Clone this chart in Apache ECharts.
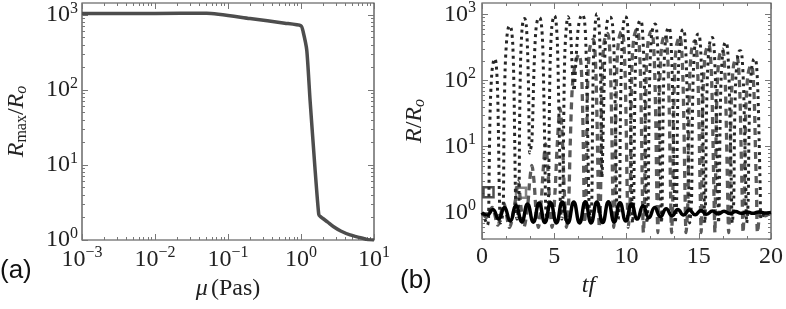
<!DOCTYPE html>
<html>
<head>
<meta charset="utf-8">
<script src="https://cdn.jsdelivr.net/npm/echarts@6/dist/echarts.min.js"></script>
<style>
  html, body { margin: 0; padding: 0; background: #fff; }
  #chart { width: 786px; height: 309px; }
</style>
</head>
<body>
<div id="chart"></div>
<script>
// (a) R_max/R_o versus viscosity
const muVals = [0.001, 0.01, 0.051, 0.2, 0.6, 1.0, 1.07, 1.2, 1.33, 1.55, 1.75, 1.85, 2.3, 2.8, 3.5, 4.7, 6.3, 7.9, 10];
const rMaxVals = [1050, 1050, 1060, 900, 780, 720, 600, 340, 74, 9.4, 2.2, 2.05, 1.75, 1.5, 1.32, 1.17, 1.08, 1.02, 1.0];

// (b) R/R_o versus tf
const solidSeries = [
  [0, 1.0], [0.35, 0.92], [0.75, 1.12], [1.15, 0.8], [1.55, 1.2], [1.95, 0.75], [2.35, 1.28], [2.75, 0.73],
  [3.15, 1.35], [3.55, 0.72], [3.95, 1.4], [4.35, 0.71], [4.75, 1.42], [5.15, 0.7], [5.55, 1.45], [5.95, 0.7],
  [6.35, 1.45], [6.75, 0.7], [7.15, 1.47], [7.55, 0.7], [7.95, 1.45], [8.35, 0.71], [8.75, 1.47], [9.15, 0.72],
  [9.55, 1.42], [9.95, 0.75], [10.35, 1.35], [10.75, 0.8], [11.15, 1.28], [11.55, 0.84], [11.95, 1.2], [12.35, 0.87],
  [12.75, 1.15], [13.15, 0.9], [13.55, 1.12], [13.95, 0.92], [14.35, 1.1], [14.75, 0.93], [15.15, 1.08], [15.55, 0.95],
  [15.95, 1.06], [16.35, 0.96], [16.75, 1.05], [17.15, 0.97], [17.55, 1.04], [17.95, 0.98], [18.35, 1.03], [18.75, 0.98],
  [19.15, 1.03], [19.55, 0.99], [20, 1.01]
];

const dottedSeries = [
  [0, 1.0], [0.2, 0.8], [0.38, 0.65],
  [0.45, 0.8], [0.5, 5], [0.57, 40], [0.68, 130], [0.8, 200], [0.89, 215], [0.98, 180], [1.07, 80], [1.14, 15], [1.2, 2], [1.28, 0.7], [1.38, 0.8],
  [1.47, 1.2], [1.52, 15], [1.6, 150], [1.72, 450], [1.82, 630], [1.92, 680], [2.03, 600], [2.13, 350], [2.21, 80], [2.27, 10], [2.33, 1.5], [2.42, 0.8],
  [2.55, 1.5], [2.6, 20], [2.67, 200], [2.77, 600], [2.87, 850], [2.96, 870], [3.06, 700], [3.15, 300], [3.23, 60], [3.3, 8],
  [3.45, 12], [3.6, 150], [3.72, 550], [3.85, 850], [3.99, 900], [4.1, 750], [4.2, 350], [4.28, 60], [4.35, 8], [4.41, 1.2], [4.5, 0.8],
  [4.6, 1.5], [4.65, 20], [4.72, 200], [4.83, 650], [4.95, 930], [5.02, 960], [5.12, 800], [5.22, 350], [5.3, 60], [5.37, 8], [5.43, 1.2], [5.52, 0.8],
  [5.6, 1.5], [5.65, 20], [5.73, 250], [5.85, 700], [5.95, 930], [6.05, 800], [6.15, 450], [6.25, 150], [6.37, 70],
  [6.5, 200], [6.65, 600], [6.8, 900], [6.95, 1000], [7.08, 850], [7.18, 400], [7.26, 70], [7.33, 10], [7.4, 1.5], [7.5, 0.8],
  [7.6, 1.5], [7.65, 25], [7.72, 250], [7.83, 700], [7.95, 1030], [8.06, 850], [8.15, 400], [8.22, 80], [8.3, 3.4],
  [8.42, 40], [8.52, 300], [8.65, 750], [8.8, 910], [8.9, 910], [9.02, 750], [9.12, 350], [9.2, 60], [9.27, 8], [9.33, 1.2], [9.42, 0.8],
  [9.52, 1.5], [9.57, 20], [9.65, 200], [9.77, 650], [9.9, 930], [10.0, 900], [10.1, 600], [10.2, 200], [10.28, 30], [10.35, 3], [10.42, 0.7],
  [10.5, 1.5], [10.55, 20], [10.63, 200], [10.75, 600], [10.9, 800], [11.0, 810], [11.1, 600], [11.2, 200], [11.28, 30], [11.35, 3], [11.42, 0.7],
  [11.5, 1.5], [11.55, 20], [11.63, 180], [11.75, 520], [11.9, 700], [12.0, 720], [12.1, 540], [12.2, 180], [12.28, 30], [12.35, 3], [12.42, 0.7],
  [12.47, 1.5], [12.52, 20], [12.6, 170], [12.72, 460], [12.85, 620], [12.95, 640], [13.05, 480], [13.15, 160], [13.23, 25], [13.3, 3], [13.37, 0.7],
  [13.47, 1.5], [13.52, 20], [13.6, 160], [13.72, 430], [13.85, 580], [13.95, 600], [14.05, 450], [14.15, 150], [14.23, 25], [14.3, 3], [14.37, 0.7],
  [14.5, 1.5], [14.55, 20], [14.63, 140], [14.75, 380], [14.9, 500], [15.0, 510], [15.1, 380], [15.2, 130], [15.28, 20], [15.35, 3], [15.42, 0.7],
  [15.47, 1.5], [15.52, 18], [15.6, 120], [15.72, 330], [15.85, 440], [15.95, 450], [16.05, 340], [16.15, 110], [16.23, 20], [16.3, 3], [16.37, 0.7],
  [16.42, 1.5], [16.47, 18], [16.55, 110], [16.67, 280], [16.8, 370], [16.9, 380], [17.0, 290], [17.1, 100], [17.18, 18], [17.25, 3], [17.32, 0.7],
  [17.42, 1.5], [17.47, 15], [17.55, 90], [17.67, 210], [17.8, 280], [17.9, 285], [18.0, 220], [18.1, 80], [18.18, 15], [18.25, 3], [18.32, 0.7],
  [18.42, 1.5], [18.47, 12], [18.55, 70], [18.67, 160], [18.8, 210], [18.9, 215], [19.0, 170], [19.1, 60], [19.18, 12], [19.25, 2.5], [19.32, 0.8],
  [19.6, 1.0], [20, 1.0]
];

const dashedSeries = [
  [0, 1.0], [0.3, 0.85], [0.7, 1.2], [1.1, 0.65], [1.5, 1.4], [1.9, 0.6], [2.3, 1.5], [2.5, 3.0], [2.7, 1.2], [2.9, 0.6],
  [3.15, 1.2], [3.3, 3], [3.45, 5.2], [3.6, 3], [3.75, 1], [3.9, 0.6],
  [4.1, 1.5], [4.25, 5], [4.4, 11], [4.55, 5], [4.7, 1.2], [4.85, 0.6],
  [5.05, 2], [5.2, 10], [5.4, 38], [5.55, 15], [5.7, 2], [5.85, 0.6],
  [6.0, 1.5], [6.1, 10], [6.25, 80], [6.45, 180], [6.7, 250], [6.85, 180], [6.95, 50], [7.03, 6], [7.1, 0.7],
  [7.2, 1.5], [7.25, 15], [7.33, 120], [7.45, 300], [7.6, 400], [7.7, 420], [7.8, 320], [7.9, 100], [7.98, 15], [8.05, 2], [8.12, 0.6],
  [8.2, 1.5], [8.25, 18], [8.33, 150], [8.45, 380], [8.6, 500], [8.7, 520], [8.8, 400], [8.9, 130], [8.98, 20], [9.05, 2], [9.12, 0.6],
  [9.2, 1.5], [9.25, 18], [9.33, 160], [9.45, 400], [9.6, 540], [9.7, 560], [9.8, 420], [9.9, 140], [9.98, 20], [10.05, 2], [10.12, 0.6],
  [10.25, 1.5], [10.3, 18], [10.38, 180], [10.5, 430], [10.65, 580], [10.75, 600], [10.85, 450], [10.95, 150], [11.03, 24], [11.1, 2], [11.17, 0.5],
  [11.25, 1.5], [11.3, 18], [11.38, 170], [11.5, 400], [11.65, 540], [11.75, 560], [11.85, 420], [11.95, 140], [12.03, 22], [12.1, 2], [12.17, 0.5],
  [12.2, 1.5], [12.25, 18], [12.33, 150], [12.45, 360], [12.6, 480], [12.7, 500], [12.8, 375], [12.9, 125], [12.98, 20], [13.05, 2], [13.12, 0.5],
  [13.2, 1.5], [13.25, 18], [13.33, 140], [13.45, 330], [13.6, 440], [13.7, 460], [13.8, 345], [13.9, 115], [13.98, 18], [14.05, 2], [14.12, 0.5],
  [14.25, 1.5], [14.3, 16], [14.38, 120], [14.5, 290], [14.65, 385], [14.75, 400], [14.85, 300], [14.95, 100], [15.03, 16], [15.1, 2], [15.17, 0.5],
  [15.2, 1.5], [15.25, 15], [15.33, 105], [15.45, 250], [15.6, 335], [15.7, 350], [15.8, 260], [15.9, 90], [15.98, 14], [16.05, 2], [16.12, 0.5],
  [16.15, 1.5], [16.2, 14], [16.28, 90], [16.4, 215], [16.55, 290], [16.65, 300], [16.75, 225], [16.85, 75], [16.93, 12], [17.0, 2], [17.07, 0.5],
  [17.15, 1.5], [17.2, 12], [17.28, 70], [17.4, 165], [17.55, 220], [17.65, 230], [17.75, 170], [17.85, 60], [17.93, 10], [18.0, 2], [18.07, 0.5],
  [18.15, 1.5], [18.2, 10], [18.28, 50], [18.4, 120], [18.55, 165], [18.65, 170], [18.75, 130], [18.85, 45], [18.93, 8], [19.0, 2], [19.07, 0.5],
  [19.3, 1.1], [19.6, 0.9], [20, 1.0]
];

const squareBlack = [[0.45, 2.05]];
const squareGray = [[2.7, 2.0]];

// tick values
const leftXMajor = [0.001, 0.01, 0.1, 1, 10];
const leftXMinor = [0.002, 0.003, 0.004, 0.005, 0.006, 0.007, 0.008, 0.009,
  0.02, 0.03, 0.04, 0.05, 0.06, 0.07, 0.08, 0.09,
  0.2, 0.3, 0.4, 0.5, 0.6, 0.7, 0.8, 0.9,
  2, 3, 4, 5, 6, 7, 8, 9];
const leftYMajor = [1, 10, 100, 1000];
const leftYMinor = [2, 3, 4, 5, 6, 7, 8, 9, 20, 30, 40, 50, 60, 70, 80, 90, 200, 300, 400, 500, 600, 700, 800, 900];
const rightYMajor = [1, 10, 100, 1000];
const rightYMinor = [0.4, 0.5, 0.6, 0.7, 0.8, 0.9].concat(leftYMinor);

const SERIF = "'Liberation Serif', 'DejaVu Serif', serif";
const TICK_COLOR = '#777';
const FS = 24;

const powRich = {
    b: { fontSize: FS, fontFamily: SERIF, color: '#222' },
    s: { fontSize: 16, fontFamily: SERIF, color: '#222', padding: [0, 0, 13, 0] }
};
function powLabel(v) {
    const e = Math.round(Math.log10(v));
    return '{b|10}{s|' + (e < 0 ? '\u2212' + (-e) : e) + '}';
}

function logAxis(grid, pos, min, max, values, len, label) {
    return {
        type: 'log', gridIndex: grid, position: pos, min: min, max: max,
        axisLine: { show: false },
        splitLine: { show: false },
        axisTick: { show: true, inside: true, length: len, customValues: values, lineStyle: { color: TICK_COLOR, width: 1 } },
        axisLabel: label ? { show: true, customValues: values, formatter: powLabel, rich: powRich, margin: 4 } : { show: false }
    };
}

const chartDom = document.getElementById('chart');
const myChart = echarts.init(chartDom);

const xLeft = logAxis(0, 'bottom', 0.001, 10, leftXMajor, 6, true);
xLeft.name = '{i|\u03bc} {n|(Pas)}';
xLeft.nameLocation = 'middle';
xLeft.nameGap = 36;
xLeft.nameTextStyle = {
    rich: {
        i: { fontSize: FS, fontFamily: SERIF, fontStyle: 'italic', color: '#222' },
        n: { fontSize: FS, fontFamily: SERIF, color: '#222' }
    }
};
xLeft.axisLabel.margin = 5;

const yLeft = logAxis(0, 'left', 1, 1450, leftYMajor, 6, true);
yLeft.name = '{i|R}{sub|max}{n|/}{i|R}{si|o}';
yLeft.nameLocation = 'middle';
yLeft.nameRotate = 90;
yLeft.nameGap = 52;
yLeft.nameTextStyle = {
    rich: {
        i: { fontSize: FS, fontFamily: SERIF, fontStyle: 'italic', color: '#222' },
        n: { fontSize: FS, fontFamily: SERIF, color: '#222' },
        sub: { fontSize: 16, fontFamily: SERIF, color: '#222', padding: [11, 0, 0, 0] },
        si: { fontSize: 16, fontFamily: SERIF, fontStyle: 'italic', color: '#222', padding: [11, 0, 0, 0] }
    }
};

const yRight = logAxis(1, 'left', 0.4, 1500, rightYMajor, 6, true);
yRight.name = '{i|R}{n|/}{i|R}{si|o}';
yRight.nameLocation = 'middle';
yRight.nameRotate = 90;
yRight.nameGap = 54;
yRight.nameTextStyle = yLeft.nameTextStyle;
yRight.axisLabel.margin = 6;

function linAxis(pos, label) {
    return {
        type: 'value', gridIndex: 1, position: pos, min: 0, max: 20, interval: 5,
        axisLine: { show: false },
        splitLine: { show: false },
        axisTick: { show: true, inside: true, length: 6, lineStyle: { color: TICK_COLOR, width: 1 } },
        minorTick: { show: true, splitNumber: 3, length: 3, lineStyle: { color: TICK_COLOR, width: 1 } },
        axisLabel: label ? { show: true, margin: 6, fontSize: FS, fontFamily: SERIF, color: '#222' } : { show: false }
    };
}
const xRight = linAxis('bottom', true);
xRight.name = 'tf';
xRight.nameLocation = 'middle';
xRight.nameGap = 34;
xRight.nameTextStyle = { fontSize: FS, fontFamily: SERIF, fontStyle: 'italic', color: '#222', padding: [0, 76, 0, 0] };

let option = {
    animation: false,
    backgroundColor: '#fff',
    grid: [
        { left: 82, top: 3, width: 292, height: 237, show: true, borderColor: '#444', borderWidth: 1.2, backgroundColor: 'transparent' },
        { left: 482, top: 3, width: 291, height: 236, show: true, borderColor: '#444', borderWidth: 1.2, backgroundColor: 'transparent' }
    ],
    xAxis: [
        xLeft,
        logAxis(0, 'bottom', 0.001, 10, leftXMinor, 3, false),
        logAxis(0, 'top', 0.001, 10, leftXMajor, 6, false),
        logAxis(0, 'top', 0.001, 10, leftXMinor, 3, false),
        xRight,
        linAxis('top', false)
    ],
    yAxis: [
        yLeft,
        logAxis(0, 'left', 1, 1450, leftYMinor, 3, false),
        logAxis(0, 'right', 1, 1450, leftYMajor, 6, false),
        logAxis(0, 'right', 1, 1450, leftYMinor, 3, false),
        yRight,
        logAxis(1, 'left', 0.4, 1500, rightYMinor, 3, false),
        logAxis(1, 'right', 0.4, 1500, rightYMajor, 6, false),
        logAxis(1, 'right', 0.4, 1500, rightYMinor, 3, false)
    ],
    graphic: [
        { type: 'text', left: 0, top: 258, style: { text: '(a)', fontSize: 26, fontFamily: "'Liberation Sans', Arial, sans-serif", fill: '#111' } },
        { type: 'text', left: 400, top: 268, style: { text: '(b)', fontSize: 26, fontFamily: "'Liberation Sans', Arial, sans-serif", fill: '#111' } }
    ],
    series: [
        {
            type: 'line', xAxisIndex: 0, yAxisIndex: 0,
            data: muVals.map((m, i) => [m, rMaxVals[i]]),
            showSymbol: false, smooth: 0.2,
            lineStyle: { color: '#4d4d4d', width: 3.5 }
        },
        {
            type: 'line', xAxisIndex: 4, yAxisIndex: 4, data: dashedSeries,
            showSymbol: false, smooth: 0.3,
            lineStyle: { color: '#5a5a5a', width: 3.3, type: [7, 5] }
        },
        {
            type: 'line', xAxisIndex: 4, yAxisIndex: 4, data: dottedSeries,
            showSymbol: false, smooth: 0.3,
            lineStyle: { color: '#262626', width: 3, type: [3, 4] }
        },
        {
            type: 'line', xAxisIndex: 4, yAxisIndex: 4, data: solidSeries,
            showSymbol: false, smooth: 0.5,
            lineStyle: { color: '#000', width: 3.5 }
        },
        {
            type: 'scatter', xAxisIndex: 4, yAxisIndex: 4, data: squareBlack,
            symbol: 'rect', symbolSize: 10,
            itemStyle: { color: '#fff', borderColor: '#222', borderWidth: 2.5 }
        },
        {
            type: 'scatter', xAxisIndex: 4, yAxisIndex: 4, data: squareGray,
            symbol: 'rect', symbolSize: 10,
            itemStyle: { color: '#fff', borderColor: '#666', borderWidth: 2.5 }
        }
    ]
};

myChart.setOption(option);
window.addEventListener('resize', () => myChart.resize());
</script>
</body>
</html>
